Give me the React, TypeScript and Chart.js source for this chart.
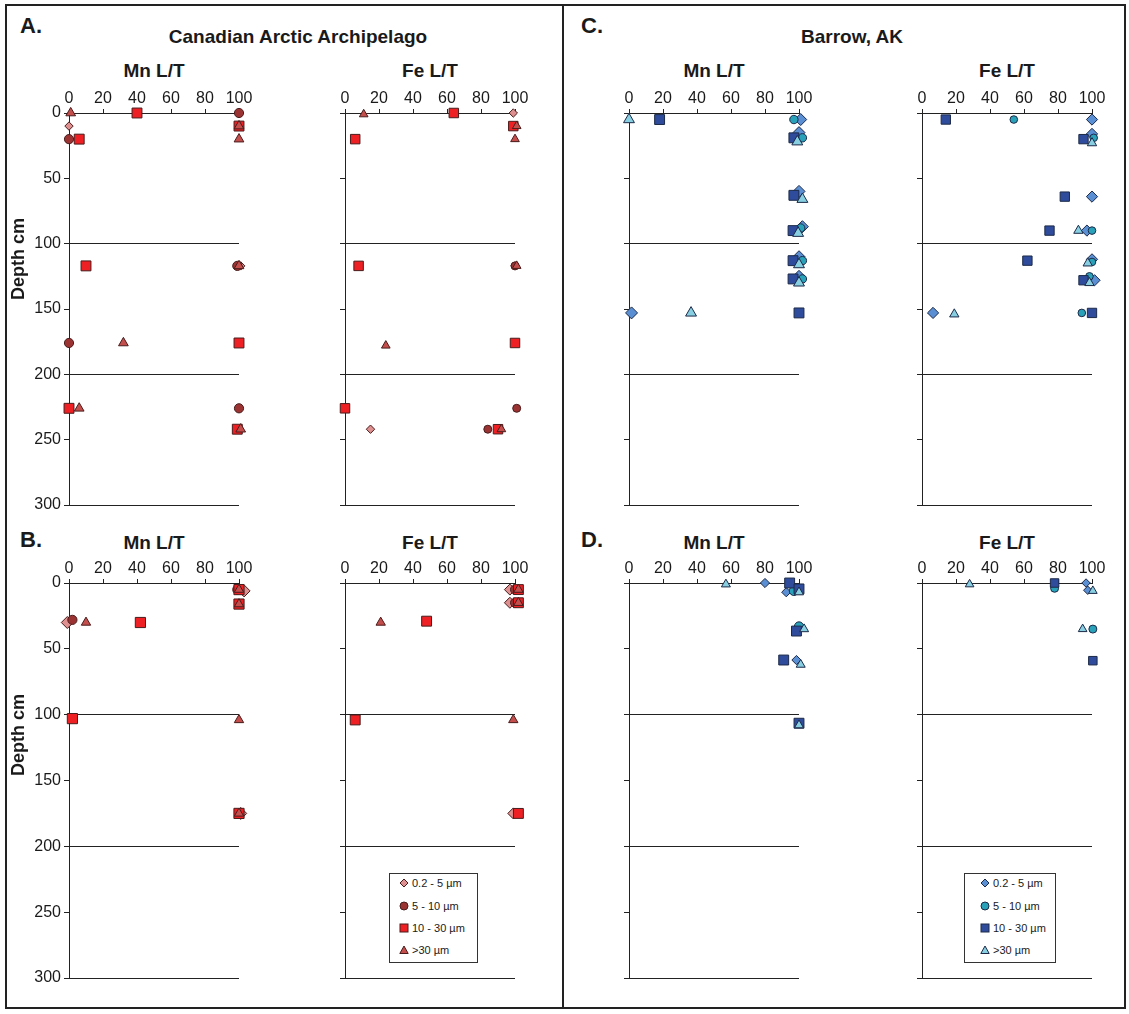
import React, { useEffect, useRef } from 'react';
import { Chart, registerables } from 'chart.js';

Chart.register(...registerables);

const FONT = '"Liberation Sans", Arial, Helvetica, sans-serif';

// ---- axes / labels ----
const X_TICKS = [0, 20, 40, 60, 80, 100];
const DEPTH_TICKS = [0, 50, 100, 150, 200, 250, 300];
const SIZE_CLASSES = ['0.2 - 5 \u00b5m', '5 - 10 \u00b5m', '10 - 30 \u00b5m', '>30 \u00b5m'];
const X_TITLES = ['Mn L/T', 'Fe L/T'];
const REGIONS = ['Canadian Arctic Archipelago', 'Barrow, AK'];
const PANEL_LETTERS = ['A.', 'B.', 'C.', 'D.'];
const Y_TITLE = 'Depth cm';

type Pt = [number, number]; // [L/T %, depth cm]

// ---- A: Canadian Arctic Archipelago (upper) ----
const A_MN_D: Pt[] = [[0, 10], [101, 117]];
const A_MN_C: Pt[] = [[100, 0], [0, 20], [99, 117], [0, 176], [100, 226]];
const A_MN_S: Pt[] = [[40, 0], [6, 20], [100, 10], [10, 117], [100, 176], [0, 226], [99, 242]];
const A_MN_T: Pt[] = [[1, 0], [100, 10], [100, 20], [100, 117], [32, 176], [6, 226], [101, 242]];

const A_FE_D: Pt[] = [[99, 0], [100, 117], [15, 242]];
const A_FE_C: Pt[] = [[103, 0], [100, 117], [101, 226], [84, 242]];
const A_FE_S: Pt[] = [[64, 0], [99, 10], [6, 20], [8, 117], [100, 176], [0, 226], [90, 242]];
const A_FE_T: Pt[] = [[11, 1], [101, 10], [100, 20], [101, 117], [24, 178], [92, 242]];

// ---- B: Canadian Arctic Archipelago (lower) ----
const B_MN_D: Pt[] = [[-1, 30], [103, 6], [101, 175]];
const B_MN_C: Pt[] = [[2, 28], [99, 5]];
const B_MN_S: Pt[] = [[42, 30], [100, 5], [100, 16], [2, 103], [100, 175]];
const B_MN_T: Pt[] = [[10, 30], [100, 5], [100, 16], [100, 104], [100, 175]];

const B_FE_D: Pt[] = [[97, 5], [97, 15], [99, 175]];
const B_FE_C: Pt[] = [[100, 5], [100, 15]];
const B_FE_S: Pt[] = [[48, 29], [102, 5], [102, 15], [6, 104], [102, 175]];
const B_FE_T: Pt[] = [[21, 30], [102, 5], [102, 15], [99, 104]];

// ---- C: Barrow, AK (upper) ----
const C_MN_D: Pt[] = [[101, 5], [100, 15], [100, 60], [102, 87], [100, 110], [100, 125], [1.5, 153]];
const C_MN_C: Pt[] = [[97, 5], [102, 19], [101, 88], [102, 113], [102, 127]];
const C_MN_S: Pt[] = [[18, 5], [97, 19], [97, 63], [96.5, 90], [96.5, 113], [96.5, 127], [100, 153]];
const C_MN_T: Pt[] = [[0, 5], [99, 22], [102, 66], [99.5, 92], [100, 116], [100, 130], [36.5, 153]];

const C_FE_D: Pt[] = [[100, 5], [100, 16], [100, 64], [97, 90], [100, 112], [101.5, 128], [6.5, 153]];
const C_FE_C: Pt[] = [[54, 5], [101, 19], [100, 90], [100, 114], [98.5, 125], [94, 153]];
const C_FE_S: Pt[] = [[14, 5], [95, 20], [84, 64], [75, 90], [62, 113], [95, 128], [100, 153]];
const C_FE_T: Pt[] = [[100, 23], [92, 90], [97.5, 115], [98.5, 130], [19, 154]];

// ---- D: Barrow, AK (lower) ----
const D_MN_D: Pt[] = [[80, 0], [92.5, 7], [98.5, 58.5]];
const D_MN_C: Pt[] = [[97, 6], [100, 33], [101, 58]];
const D_MN_S: Pt[] = [[94.5, 0], [100, 4.5], [98.5, 36.5], [91, 58.5], [100, 106.5]];
const D_MN_T: Pt[] = [[57, 1], [100, 7], [103, 35], [101, 62], [100, 108]];

const D_FE_D: Pt[] = [[96.5, 0], [97.5, 5.5]];
const D_FE_C: Pt[] = [[78, 4], [100.5, 35], [100.5, 106]];
const D_FE_S: Pt[] = [[78, 0], [100.5, 59]];
const D_FE_T: Pt[] = [[28, 1], [100.5, 6], [94.5, 35]];

// ---- styles ----
const STYLES = ['rectRot', 'circle', 'rect', 'triangle'] as const;
const RED_FILL = ['#de8f8f', '#9b3333', '#ee2024', '#c44e4c'];
const RED_STROKE = '#4a1c1c';
const BLUE_FILL = ['#5b8fd4', '#29a1b9', '#2f4c9c', '#88cfe1'];
const BLUE_STROKE = '#1c2a48';

const PADL = 50;
const PADT = 30;
const PADR = 28;
const PADB = 14;
const PLOT_W = 170;

type PanelProps = {
  x0: number;
  y0: number;
  h: number;
  showY: boolean;
  sets: Pt[][];
  fills: string[];
  stroke: string;
  radii: number[];
};

function Panel({ x0, y0, h, showY, sets, fills, stroke, radii }: PanelProps) {
  const ref = useRef<HTMLCanvasElement>(null);
  useEffect(() => {
    const chart = new Chart(ref.current as HTMLCanvasElement, {
      type: 'scatter',
      data: {
        datasets: sets.map((d, i) => ({
          label: SIZE_CLASSES[i],
          data: d.map(([x, y]) => ({ x, y })),
          pointStyle: STYLES[i],
          pointRadius: radii[i],
          pointBackgroundColor: fills[i],
          pointBorderColor: stroke,
          pointBorderWidth: 1,
          showLine: false,
          clip: false,
          order: 3 - i,
        })),
      },
      options: {
        responsive: false,
        animation: false,
        devicePixelRatio: 1,
        events: [],
        layout: { padding: { left: 0, top: 0, right: PADR, bottom: PADB } },
        plugins: { legend: { display: false }, tooltip: { enabled: false } },
        scales: {
          x: {
            type: 'linear',
            position: 'top',
            min: 0,
            max: 100,
            afterBuildTicks: (s: any) => {
              s.ticks = X_TICKS.map((v) => ({ value: v }));
            },
            afterFit: (s: any) => {
              s.height = PADT;
            },
            ticks: {
              font: { family: FONT, size: 16 },
              color: '#1a1a1a',
              padding: 1,
              maxRotation: 0,
              autoSkip: false,
            },
            grid: { drawOnChartArea: false, tickLength: 4, color: '#222', lineWidth: 1 },
            border: { display: true, color: '#222', width: 1 },
          },
          y: {
            type: 'linear',
            reverse: true,
            min: 0,
            max: 300,
            afterBuildTicks: (s: any) => {
              s.ticks = DEPTH_TICKS.map((v) => ({ value: v }));
            },
            afterFit: (s: any) => {
              s.width = PADL;
            },
            ticks: {
              font: { family: FONT, size: 16 },
              color: '#1a1a1a',
              padding: 3,
              autoSkip: false,
              callback: (v: any) => (showY ? String(v) : ''),
            },
            grid: {
              drawOnChartArea: true,
              tickLength: 5,
              tickColor: '#222',
              lineWidth: 1,
              color: (c: any) =>
                c.tick && c.tick.value > 0 && c.tick.value % 100 === 0 ? '#222' : 'rgba(0,0,0,0)',
            },
            border: { display: true, color: '#222', width: 1 },
          },
        },
      } as any,
    });
    return () => chart.destroy();
  }, []);
  const w = PADL + PLOT_W + PADR;
  const hh = PADT + h + PADB;
  return (
    <canvas
      ref={ref}
      width={w}
      height={hh}
      style={{ position: 'absolute', left: x0 - PADL, top: y0 - PADT, width: w, height: hh }}
    />
  );
}

function Text({ x, y, size, bold, children, rotate, align }: any) {
  return (
    <div
      style={{
        position: 'absolute',
        left: x,
        top: y,
        transform: `translate(${align === 'left' ? '0' : '-50%'}, -50%)${rotate ? ' rotate(-90deg)' : ''}`,
        fontFamily: FONT,
        fontSize: size,
        fontWeight: bold ? 'bold' : 'normal',
        lineHeight: 1,
        whiteSpace: 'nowrap',
        color: '#1a1a1a',
      }}
    >
      {children}
    </div>
  );
}

function Icon({ kind, fill, stroke }: { kind: number; fill: string; stroke: string }) {
  let shape;
  if (kind === 0) shape = <polygon points="5,1 9,5 5,9 1,5" fill={fill} stroke={stroke} strokeWidth={1} />;
  else if (kind === 1) shape = <circle cx={5} cy={5} r={4} fill={fill} stroke={stroke} strokeWidth={1} />;
  else if (kind === 2) shape = <rect x={1} y={1} width={8} height={8} fill={fill} stroke={stroke} strokeWidth={1} />;
  else shape = <polygon points="5,1 9.2,8.5 0.8,8.5" fill={fill} stroke={stroke} strokeWidth={1} />;
  return (
    <svg width={10} height={10} style={{ display: 'block' }}>
      {shape}
    </svg>
  );
}

function Legend({ left, top, width, iconX, fills, stroke }: any) {
  const rows = [9, 32, 54, 76];
  return (
    <div
      style={{
        position: 'absolute',
        left,
        top,
        width,
        height: 90,
        border: '1px solid #333',
        background: '#fff',
        boxSizing: 'border-box',
      }}
    >
      {SIZE_CLASSES.map((lab, i) => (
        <div key={lab} style={{ position: 'absolute', left: iconX - 5, top: rows[i] - 5 }}>
          <Icon kind={i} fill={fills[i]} stroke={stroke} />
          <div
            style={{
              position: 'absolute',
              left: 13,
              top: -1,
              fontFamily: FONT,
              fontSize: 11,
              lineHeight: '12px',
              whiteSpace: 'nowrap',
              color: '#1a1a1a',
            }}
          >
            {lab}
          </div>
        </div>
      ))}
    </div>
  );
}

export default function App() {
  useEffect(() => {
    document.body.style.margin = '0';
  }, []);
  const TOP1 = 112.7;
  const TOP2 = 582.7;
  const H1 = 392;
  const H2 = 395;
  const XL = [69, 345, 629, 922];
  return (
    <div style={{ position: 'absolute', left: 0, top: 0, width: 1129, height: 1014, background: '#fff' }}>
      <div
        style={{
          position: 'absolute',
          left: 5,
          top: 4,
          width: 1121,
          height: 1005,
          border: '2px solid #222',
          boxSizing: 'border-box',
        }}
      />
      <div style={{ position: 'absolute', left: 562, top: 4, width: 2, height: 1005, background: '#222' }} />

      <Panel x0={XL[0]} y0={TOP1} h={H1} showY sets={[A_MN_D, A_MN_C, A_MN_S, A_MN_T]} fills={RED_FILL} stroke={RED_STROKE} radii={[4.2, 4.6, 7, 5.6]} />
      <Panel x0={XL[1]} y0={TOP1} h={H1} showY={false} sets={[A_FE_D, A_FE_C, A_FE_S, A_FE_T]} fills={RED_FILL} stroke={RED_STROKE} radii={[4.2, 4, 6.7, 5]} />
      <Panel x0={XL[0]} y0={TOP2} h={H2} showY sets={[B_MN_D, B_MN_C, B_MN_S, B_MN_T]} fills={RED_FILL} stroke={RED_STROKE} radii={[6, 4.6, 7.2, 5.4]} />
      <Panel x0={XL[1]} y0={TOP2} h={H2} showY={false} sets={[B_FE_D, B_FE_C, B_FE_S, B_FE_T]} fills={RED_FILL} stroke={RED_STROKE} radii={[5.5, 4.5, 7, 5.4]} />
      <Panel x0={XL[2]} y0={TOP1} h={H1} showY={false} sets={[C_MN_D, C_MN_C, C_MN_S, C_MN_T]} fills={BLUE_FILL} stroke={BLUE_STROKE} radii={[6, 4.2, 7, 6.3]} />
      <Panel x0={XL[3]} y0={TOP1} h={H1} showY={false} sets={[C_FE_D, C_FE_C, C_FE_S, C_FE_T]} fills={BLUE_FILL} stroke={BLUE_STROKE} radii={[5.6, 3.8, 6.6, 5.4]} />
      <Panel x0={XL[2]} y0={TOP2} h={H2} showY={false} sets={[D_MN_D, D_MN_C, D_MN_S, D_MN_T]} fills={BLUE_FILL} stroke={BLUE_STROKE} radii={[4.6, 4.6, 7, 5.2]} />
      <Panel x0={XL[3]} y0={TOP2} h={H2} showY={false} sets={[D_FE_D, D_FE_C, D_FE_S, D_FE_T]} fills={BLUE_FILL} stroke={BLUE_STROKE} radii={[4.2, 4, 6, 5]} />

      <Text x={31} y={26} size={22} bold>{PANEL_LETTERS[0]}</Text>
      <Text x={31} y={540} size={22} bold>{PANEL_LETTERS[1]}</Text>
      <Text x={592} y={26} size={22} bold>{PANEL_LETTERS[2]}</Text>
      <Text x={592} y={540} size={22} bold>{PANEL_LETTERS[3]}</Text>

      <Text x={298} y={36} size={19} bold>{REGIONS[0]}</Text>
      <Text x={852} y={36} size={19} bold>{REGIONS[1]}</Text>

      <Text x={XL[0] + 85} y={70} size={19} bold>{X_TITLES[0]}</Text>
      <Text x={XL[1] + 85} y={70} size={19} bold>{X_TITLES[1]}</Text>
      <Text x={XL[2] + 85} y={70} size={19} bold>{X_TITLES[0]}</Text>
      <Text x={XL[3] + 85} y={70} size={19} bold>{X_TITLES[1]}</Text>
      <Text x={XL[0] + 85} y={542} size={19} bold>{X_TITLES[0]}</Text>
      <Text x={XL[1] + 85} y={542} size={19} bold>{X_TITLES[1]}</Text>
      <Text x={XL[2] + 85} y={542} size={19} bold>{X_TITLES[0]}</Text>
      <Text x={XL[3] + 85} y={542} size={19} bold>{X_TITLES[1]}</Text>

      <Text x={18} y={259} size={18} bold rotate>{Y_TITLE}</Text>
      <Text x={18} y={735} size={18} bold rotate>{Y_TITLE}</Text>

      <Legend left={389} top={873} width={89} iconX={14} fills={RED_FILL} stroke={RED_STROKE} />
      <Legend left={964} top={873} width={92} iconX={20} fills={BLUE_FILL} stroke={BLUE_STROKE} />
    </div>
  );
}
